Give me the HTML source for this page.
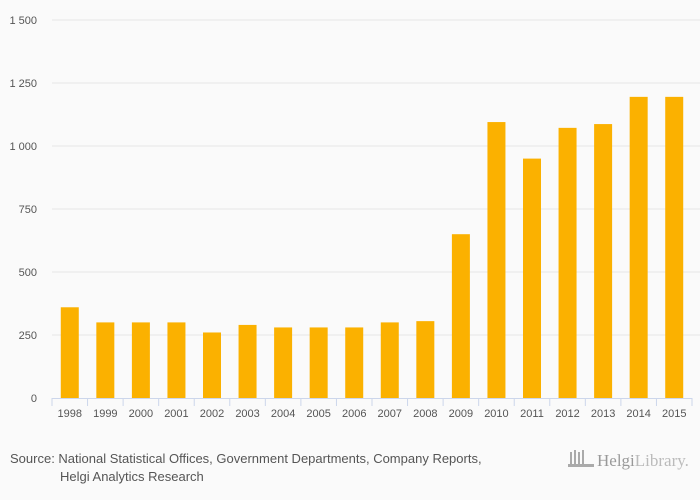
<!DOCTYPE html>
<html><head><meta charset="utf-8"><style>
body{margin:0;background:#fafafa;font-family:"Liberation Sans",sans-serif}
svg{display:block}
</style></head><body>
<svg id="chart" width="700" height="500">
<rect width="700" height="500" fill="#fafafa"/>
<g id="grid"></g><g id="bars"></g><g id="xaxis"></g>
<text x="10" y="463" font-size="13" fill="#555">Source: National Statistical Offices, Government Departments, Company Reports,</text>
<text x="60" y="481" font-size="13" fill="#555">Helgi Analytics Research</text>
<g>
<rect x="570" y="452" width="2" height="14" fill="#aaa"/><rect x="574" y="450" width="2" height="16" fill="#aaa"/><rect x="578" y="452" width="2" height="14" fill="#aaa"/><rect x="582" y="450" width="2" height="16" fill="#aaa"/><rect x="568" y="464" width="26" height="3" fill="#aaa"/>
<text x="597" y="466" font-size="17" fill="#999" font-family="Liberation Serif,serif">Helgi<tspan fill="#bbb">Library.</tspan></text>
</g>
</svg>
<script>
const categories=["1998","1999","2000","2001","2002","2003","2004","2005","2006","2007","2008","2009","2010","2011","2012","2013","2014","2015"];
const values=[360,300,300,300,260,290,280,280,280,300,305,650,1095,950,1072,1087,1195,1195];
const yTicks=[0,250,500,750,1000,1250,1500];
const yTickLabels=["0","250","500","750","1 000","1 250","1 500"];
const NS="http://www.w3.org/2000/svg";
const x0=52,x1=692,yB=398,yT=20,yMax=1500;
const band=(x1-x0)/categories.length;
const y=v=>yB-(v/yMax)*(yB-yT);
const xc=i=>x0+band*(i+0.5);
function mk(tag,attrs,parent){const e=document.createElementNS(NS,tag);for(const k in attrs)e.setAttribute(k,attrs[k]);document.getElementById(parent).appendChild(e);return e;}
yTicks.forEach((t,i)=>{
 if(t>0){const l=mk('line',{x1:x0,x2:700,y1:y(t),y2:y(t),stroke:'#e6e6e6','stroke-width':1},'grid');
 
 }
 const tx=mk('text',{x:37,y:y(t)+4,'text-anchor':'end','font-size':11,fill:'#555'},'grid');
 tx.textContent=yTickLabels[i];
 
 
});
values.forEach((v,i)=>{
 const r=mk('rect',{x:xc(i)-9,y:y(v),width:18,height:yB-y(v),fill:'#fbb100'},'bars');
 
 
});
const ax=mk('line',{x1:x0,x2:x1,y1:yB+0.5,y2:yB+0.5,stroke:'#ccd6eb'},'xaxis');


for(let i=0;i<=categories.length;i++){
 const tk=mk('line',{x1:x0+band*i,x2:x0+band*i,y1:yB,y2:yB+8,stroke:'#ccd6eb'},'xaxis');
 
 
}
categories.forEach((c,i)=>{
 const t=mk('text',{x:xc(i),y:417,'text-anchor':'middle','font-size':11,fill:'#555'},'xaxis');
 t.textContent=c;
 
 
});
</script>
</body></html>
